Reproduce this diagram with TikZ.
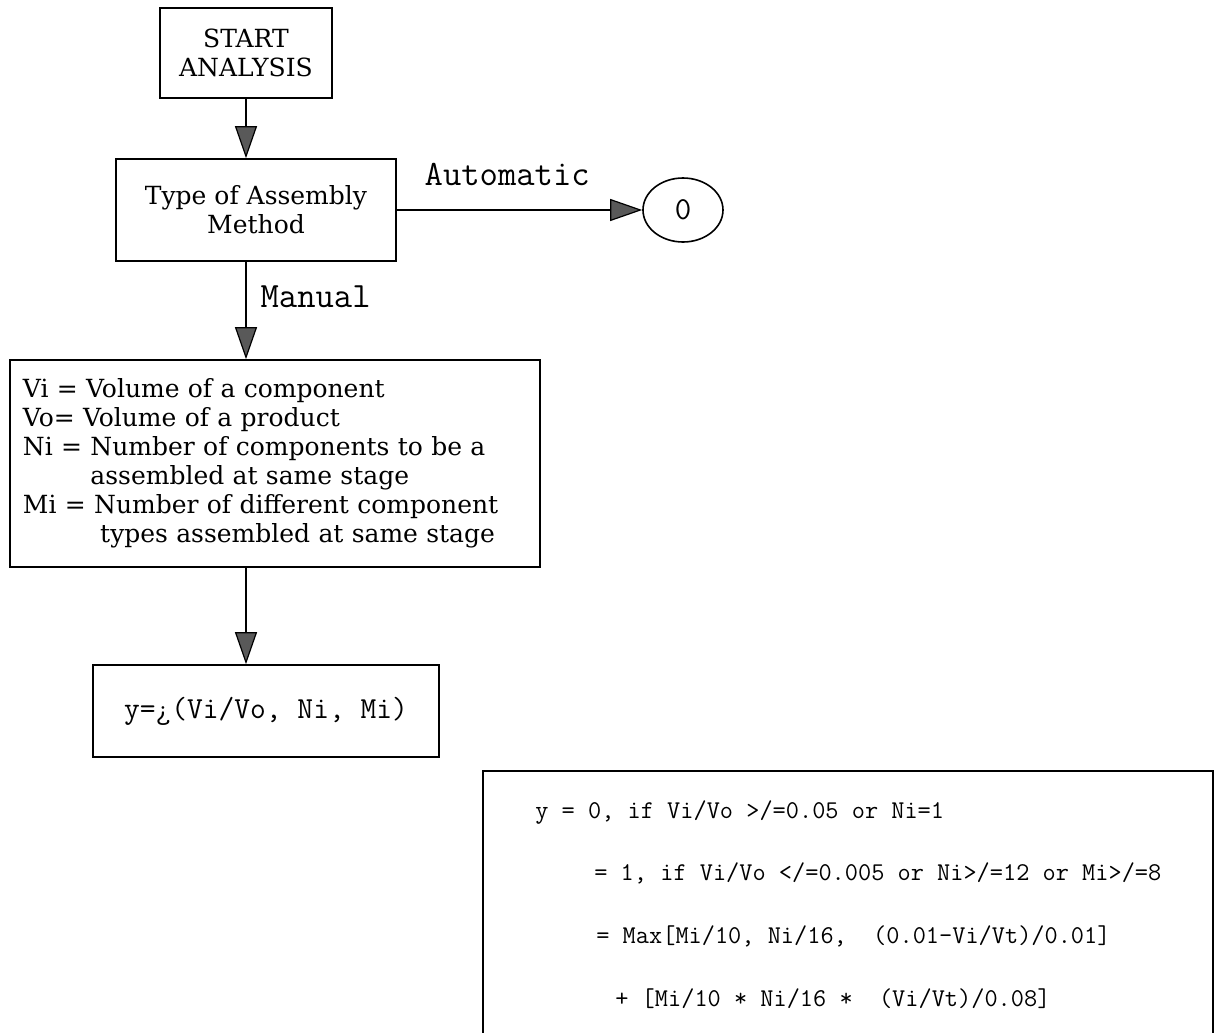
\documentclass[tikz,border=0pt]{standalone}
\usepackage{fontspec}
\usetikzlibrary{arrows.meta,shapes.geometric}
\newfontfamily\boxfont{DejaVu Serif}

\tikzset{
  block/.style={draw, line width=0.8pt, align=center, inner sep=0pt,
    font=\boxfont\fontsize{12.5}{14.5}\selectfont},
  flow/.style={-{Triangle[length=16pt,width=11pt,fill=black!65]}, line width=0.6pt},
  tag/.style={font=\ttfamily\fontsize{17.8}{19}\selectfont, inner sep=0pt},
  code/.style={font=\ttfamily\fontsize{12.8}{14}\selectfont, inner sep=0pt, anchor=base west},
}

\begin{document}
\begin{tikzpicture}[x=0.5pt, y=-0.5pt]
  \useasboundingbox (0,0) rectangle (1223,1033);

  \node[block, minimum width=86pt, minimum height=45pt] (start) at (246,53) {START\\ANALYSIS};
  \node[block, minimum width=140pt, minimum height=51pt] (type) at (256,210) {Type of Assembly\\Method};
  \node[draw, ellipse, line width=0.8pt, minimum width=40pt, minimum height=32pt,
    font=\ttfamily\fontsize{16}{18}\selectfont] (zero) at (683,210) {0};
  \node[block, align=left, text width=252pt, minimum width=265pt, minimum height=103.5pt] (vars) at (275,463.5)
    {Vi = Volume of a component\\
     Vo= Volume of a product\\
     Ni = Number of components to be a\\
     \phantom{Ni = }assembled at same stage\\
     Mi = Number of different component\\
     \phantom{Mi = }\hspace{3pt}types assembled at same stage};
  \node[block, font=\ttfamily\fontsize{15.3}{17}\selectfont, minimum width=173pt, minimum height=46pt]
    (func) at (266,711) {y=¿(Vi/Vo, Ni, Mi)};

  % rules for y
  \node[draw, line width=0.8pt, inner sep=0pt, minimum width=365pt, minimum height=140pt, anchor=north west]
    (cond) at (482,770) {};
  \node[code] (c1) at (535,818) {y = 0, if Vi/Vo >/=0.05 or Ni=1};
  \node[code] (c2) at (594,880) {= 1, if Vi/Vo </=0.005 or Ni>/=12 or Mi>/=8};
  \node[code] (c3) at (596,943) {= Max[Mi/10, Ni/16,~ (0.01-Vi/Vt)/0.01]};
  \node[code] (c4) at (615,1006) {+ [Mi/10 * Ni/16 *~ (Vi/Vt)/0.08]};

  \draw[flow] (start) -- (start |- type.north);
  \draw[flow] (type.east) -- node[tag, pos=0.45, above=12pt] {Automatic} (zero.west);
  \draw[flow] (type.south -| start) -- node[tag, pos=0.36, right=7pt] {Manual} (vars.north -| start);
  \draw[flow] (vars.south -| start) -- (func.north -| start);
\end{tikzpicture}
\end{document}
